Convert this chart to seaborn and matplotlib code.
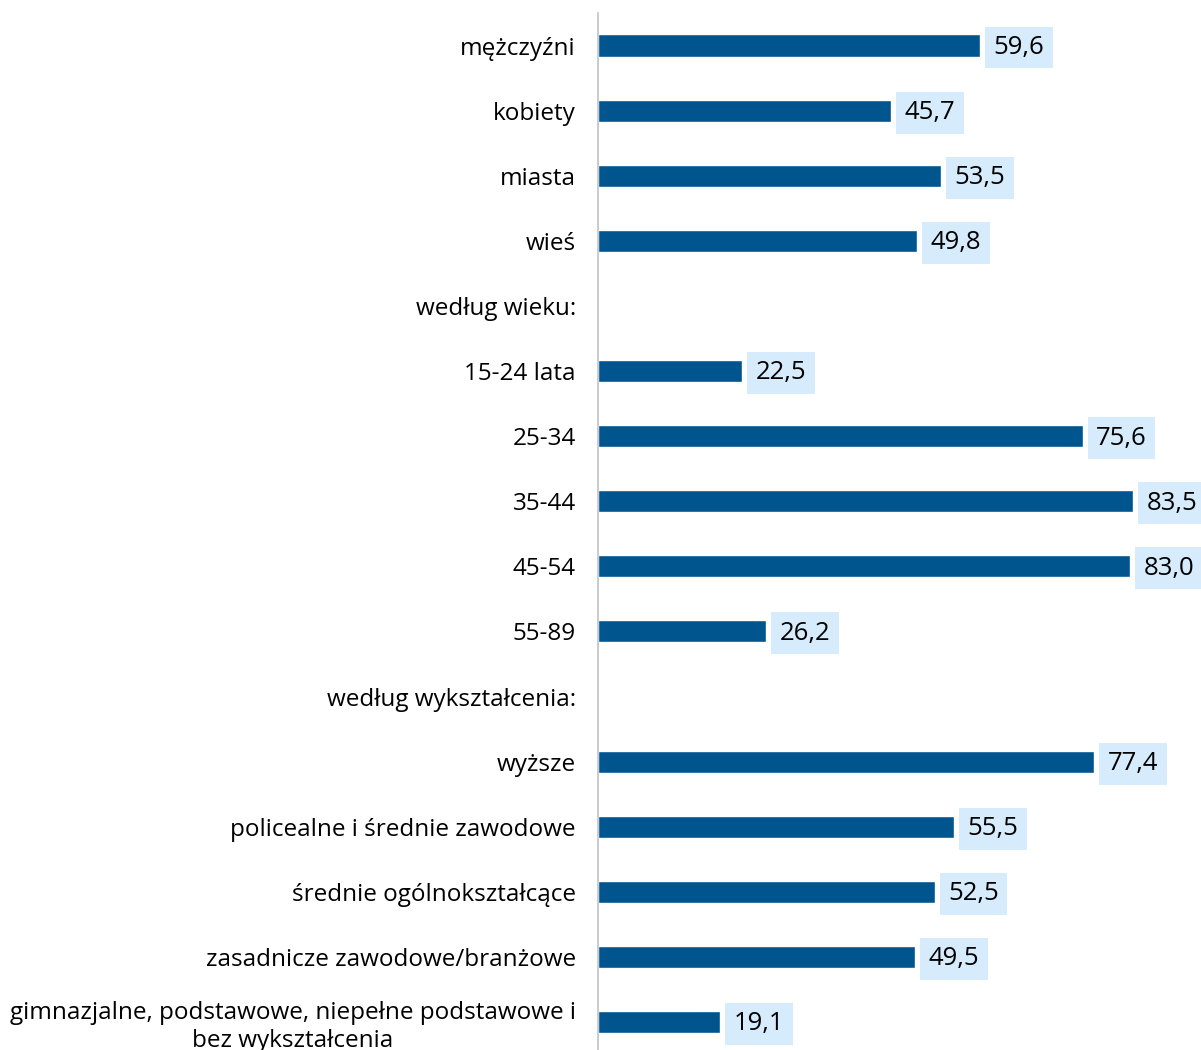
import matplotlib
matplotlib.use("Agg")
import matplotlib.pyplot as plt
import matplotlib.font_manager as fm
import seaborn as sns
import pandas as pd
import numpy as np

categories = [
    "mężczyźni", "kobiety", "miasta", "wieś", "według wieku:",
    "15-24 lata", "25-34", "35-44", "45-54", "55-89",
    "według wykształcenia:", "wyższe", "policealne i średnie zawodowe",
    "średnie ogólnokształcące", "zasadnicze zawodowe/branżowe",
    "gimnazjalne, podstawowe, niepełne podstawowe i\nbez wykształcenia",
]
values = [59.6, 45.7, 53.5, 49.8, np.nan,
          22.5, 75.6, 83.5, 83.0, 26.2,
          np.nan, 77.4, 55.5, 52.5, 49.5, 19.1]

sns.set_theme(style="white")
names = {f.name for f in fm.fontManager.ttflist}
fam = "Liberation Sans Narrow" if "Liberation Sans Narrow" in names else "Open Sans"
plt.rcParams["font.family"] = [fam, "DejaVu Sans"]

df = pd.DataFrame({"cat": categories, "val": values})

fig = plt.figure(figsize=(12.01, 10.5), dpi=100)
ax = fig.add_axes([598 / 1201, 0, 1 - 598 / 1201, 1 - 13 / 1050])

sns.barplot(data=df, y="cat", x="val", order=categories, orient="h",
            color="#00558f", saturation=1, width=0.34, ax=ax)

ax.set_xlim(0, 603 / 6.41)
ax.set_ylim(15 + 28 / 65.07, -0.5)
for s in ["top", "right", "bottom"]:
    ax.spines[s].set_visible(False)
ax.spines["left"].set_color("#bfc4c9")
ax.spines["left"].set_linewidth(1.2)
ax.set_xticks([])
ax.set_xlabel("")
ax.set_ylabel("")
ax.tick_params(axis="y", length=0, pad=16, labelsize=17.5, labelcolor="#000000")
for lbl in ax.get_yticklabels():
    lbl.set_multialignment("center")

for i, v in enumerate(values):
    if np.isnan(v):
        continue
    ax.text(v + 2.1, i + 0.03, f"{v:.1f}".replace(".", ","), va="center", ha="left",
            fontsize=18.5, color="#000000",
            bbox=dict(boxstyle="square,pad=0.33", fc="#d6ebfb", ec="none"))

fig.savefig("out.png", dpi=100)
